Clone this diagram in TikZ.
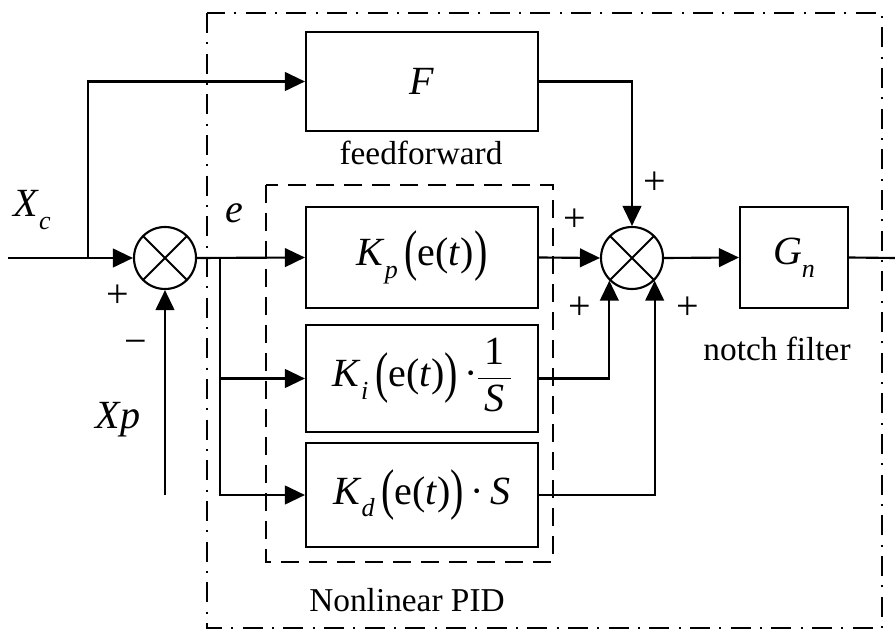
\documentclass[tikz,border=0pt]{standalone}
\usepackage{fontspec}
\setmainfont{Liberation Serif}
\usepackage{graphicx}
\usetikzlibrary{arrows.meta}

\newcommand\bigpl{\raisebox{-0.11em}{\scalebox{1}[1.4]{(}}}
\newcommand\bigpr{\raisebox{-0.11em}{\scalebox{1}[1.4]{)}}}
\newcommand\et{\bigpl e(\textit{t})\bigpr}
\newcommand\mysub[1]{\raisebox{-0.32em}{\scalebox{0.65}{\textit{#1}}}}
\newcommand\fracS{{\setlength\arrayrulewidth{1.2pt}\renewcommand\arraystretch{0.95}\begin{tabular}{@{\,}c@{\,}}1\\\hline\textit{S}\end{tabular}}}

\tikzset{
  blk/.style={draw, rectangle, inner sep=0pt, font=\fontsize{30}{36}\selectfont},
  sumj/.style={draw, circle, minimum size=46.5pt, inner sep=0pt,
    path picture={\draw[line width=1.4pt] (path picture bounding box.north west) -- (path picture bounding box.south east)
      (path picture bounding box.north east) -- (path picture bounding box.south west);}},
  lbl/.style={inner sep=0pt, font=\fontsize{25}{30}\selectfont},
  sign/.style={inner sep=0pt, font=\fontsize{30}{36}\selectfont},
  var/.style={inner sep=0pt, font=\fontsize{30}{36}\selectfont},
  outerbox/.style={line width=1.5pt, dash pattern=on 15pt off 7pt on 1.5pt off 7pt},
  pidbox/.style={line width=1.5pt, dash pattern=on 13.5pt off 7.5pt},
}

\begin{document}
\begin{tikzpicture}[x=0.75pt,y=-0.75pt, line width=1.6pt, >={Triangle[length=15pt,width=14pt]}]
\useasboundingbox (0,0) rectangle (895,630);

% frames
\draw[outerbox] (207,13) rectangle (882,628);
\draw[pidbox] (266,185) rectangle (553,562);

% blocks
\node[blk, minimum width=174pt, minimum height=74.25pt] (F) at (422,81.5) {\textit{F}};
\node[blk, minimum width=174pt, minimum height=75.75pt] (Kp) at (422,257.5) {\textit{K}\mysub{p}\,\et};
\node[blk, minimum width=174pt, minimum height=80.25pt] (Ki) at (422,378.5) {\textit{K}\mysub{i}\,\et\,·\fracS};
\node[blk, minimum width=174pt, minimum height=78pt] (Kd) at (422,495) {\textit{K}\mysub{d}\,\et\,·\,\textit{S}};
\node[blk, minimum width=81pt, minimum height=75.75pt] (Gn) at (794,257.5) {\textit{G}\mysub{n}};

% summing junctions
\node[sumj] (s1) at (165,258) {};
\node[sumj] (s2) at (632,258) {};

% coordinates
\coordinate (in) at (8,258);
\coordinate (b1) at (88,258);
\coordinate (xp) at (165,495);
\coordinate (b2) at (220,258);
\coordinate (out) at (895,258);

% connectors
\draw[->] (in) -- (s1.west);
\draw[->] (b1) |- (F.west);
\draw[->] (xp) -- (s1.south);
\draw[->] (s1.east) -- (Kp.west);
\draw[->] (b2) |- (Ki.west);
\draw[->] (b2) |- (Kd.west);
\draw[->] (F.east) -| (s2.north);
\draw[->] (Kp.east) -- (s2.west);
\draw[->] (Ki.east) -| (s2.south west);
\draw[->] (Kd.east) -| (s2.south east);
\draw[->] (s2.east) -- (Gn.west);
\draw (Gn.east) -- (out);

% labels
\node[var] (xc) at (32,210) {\textit{X}\mysub{c}};
\node[var] (xpl) at (118,420) {\textit{Xp}};
\node[var] (e) at (234,213) {\textit{e}};
\node[sign] (p1) at (118,296) {+};
\node[sign] (m1) at (136,347) {−};
\node[sign] (p2) at (655,183) {+};
\node[sign] (p3) at (575,220) {+};
\node[sign] (p4) at (580,308) {+};
\node[sign] (p5) at (688,308) {+};
\node[lbl] (ff) at (421,153) {feedforward};
\node[lbl] (nf) at (777,349) {notch filter};
\node[lbl] (pid) at (407,600) {Nonlinear PID};
\end{tikzpicture}
\end{document}
